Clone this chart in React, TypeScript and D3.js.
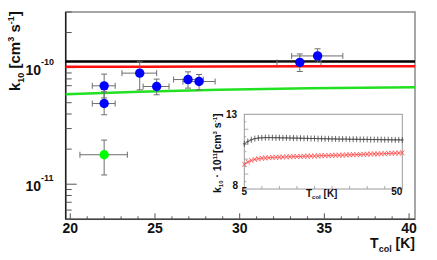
import React from 'react';
import * as d3 from 'd3';

// main plot: measured rate coefficients vs collision temperature
const blueT = [22, 22, 24.1, 25.1, 26.95, 27.6, 33.55, 34.6];
const blueK = [6.98e-11, 4.92e-11, 8.97e-11, 6.89e-11, 7.9e-11, 7.6e-11, 1.11e-10, 1.26e-10];
const blueTLo = [21.3, 21.3, 23.05, 24.3, 26.1, 26.65, 32.2, 33.07];
const blueTHi = [22.65, 22.65, 25.1, 25.83, 27.85, 28.55, 34.8, 36.09];
const blueKLo = [5.5e-11, 3.94e-11, 6.45e-11, 5.85e-11, 6.67e-11, 6.45e-11, 9.26e-11, 1.11e-10];
const blueKHi = [8.8e-11, 6.2e-11, 1.12e-10, 7.97e-11, 9.2e-11, 8.73e-11, 1.31e-10, 1.45e-10];

const greenT = [22];
const greenK = [1.79e-11];
const greenTLo = [20.57];
const greenTHi = [23.37];
const greenKLo = [1.2e-11];
const greenKHi = [2.39e-11];

// theory curves
const curveT = [19.73, 24.1, 28.8, 34.1, 40.35];
const blackCurve = [1.13e-10, 1.13e-10, 1.13e-10, 1.13e-10, 1.13e-10];
const redCurve = [1.016e-10, 1.019e-10, 1.022e-10, 1.026e-10, 1.03e-10];
const greenCurve = [5.92e-11, 6.2e-11, 6.45e-11, 6.64e-11, 6.8e-11];

const xTicks = [20, 25, 30, 35, 40];
const yMajor = [1e-11, 1e-10];
const yMajorExp = ['-11', '-10'];

// inset: k10 * 1e11 for T = 5..50 K
const insetT = d3.range(5, 51);
const insetBlack = [
  11.02, 11.18, 11.3, 11.37, 11.41, 11.43, 11.44, 11.44, 11.44, 11.43,
  11.43, 11.42, 11.42, 11.41, 11.41, 11.4, 11.4, 11.39, 11.39, 11.38,
  11.38, 11.37, 11.37, 11.36, 11.36, 11.35, 11.35, 11.34, 11.34, 11.34,
  11.33, 11.33, 11.33, 11.32, 11.32, 11.32, 11.31, 11.31, 11.31, 11.3,
  11.3, 11.3, 11.29, 11.29, 11.29, 11.28,
];
const insetRed = [
  9.65, 9.8, 9.91, 9.98, 10.03, 10.06, 10.08, 10.1, 10.11, 10.12,
  10.13, 10.14, 10.15, 10.16, 10.17, 10.17, 10.18, 10.19, 10.2, 10.2,
  10.21, 10.22, 10.23, 10.23, 10.24, 10.25, 10.26, 10.26, 10.27, 10.28,
  10.29, 10.3, 10.3, 10.31, 10.32, 10.33, 10.34, 10.35, 10.35, 10.36,
  10.37, 10.38, 10.39, 10.4, 10.41, 10.42,
];

const FONT = "'Liberation Sans', Arial, sans-serif";

export default function App() {
  const left = 65.7, right = 415, top = 12, bottom = 219.3;
  const x = d3.scaleLinear().domain([19.73, 40.35]).range([left, right]);
  const y = d3.scaleLog().domain([5e-12, 3e-10]).range([bottom, top]);

  const minorY: number[] = [];
  [1e-12, 1e-11, 1e-10].forEach(dec => {
    for (let m = 2; m <= 9; m++) {
      const v = m * dec;
      if (v >= 5e-12 && v <= 3e-10) minorY.push(v);
    }
  });
  const minorX = d3.range(20, 41).filter(v => v % 5 !== 0);

  const line = d3.line<number>().x((d, i) => x(curveT[i])).y(d => y(d));

  // inset scales
  const ix = d3.scaleLinear().domain([5, 50]).range([244.3, 402.3]);
  const iy = d3.scaleLinear().domain([8, 13]).range([189, 114.3]);
  const iline = d3.line<number>().x((d, i) => ix(insetT[i])).y(d => iy(d));

  const errColor = '#6e6e6e';
  const cap = 3;

  const errBars = (T: number[], K: number[], tlo: number[], thi: number[], klo: number[], khi: number[]) =>
    T.map((t, i) => (
      <g key={i} stroke={errColor} strokeWidth={1}>
        <line x1={x(tlo[i])} x2={x(thi[i])} y1={y(K[i])} y2={y(K[i])} />
        <line x1={x(tlo[i])} x2={x(tlo[i])} y1={y(K[i]) - cap} y2={y(K[i]) + cap} />
        <line x1={x(thi[i])} x2={x(thi[i])} y1={y(K[i]) - cap} y2={y(K[i]) + cap} />
        <line x1={x(t)} x2={x(t)} y1={y(klo[i])} y2={y(khi[i])} />
        <line x1={x(t) - cap} x2={x(t) + cap} y1={y(klo[i])} y2={y(klo[i])} />
        <line x1={x(t) - cap} x2={x(t) + cap} y1={y(khi[i])} y2={y(khi[i])} />
      </g>
    ));

  return (
    <svg width={437} height={260} style={{ position: 'fixed', left: 0, top: 0, background: '#fff' }}
      fontFamily={FONT} fontWeight="bold">
      {/* frame */}
      <rect x={left} y={top} width={right - left} height={bottom - top} fill="#fff" stroke="#8a8a8a" strokeWidth={1.5} />
      <line x1={left} x2={left} y1={top} y2={bottom} stroke="#222" strokeWidth={1.5} />
      <line x1={left} x2={right} y1={bottom} y2={bottom} stroke="#444" strokeWidth={1.5} />

      {/* y ticks */}
      {minorY.map((v, i) => (
        <line key={'ym' + i} x1={left} x2={left + 6} y1={y(v)} y2={y(v)} stroke="#555" strokeWidth={1} />
      ))}
      {yMajor.map((v, i) => (
        <g key={'yM' + i}>
          <line x1={left} x2={left + 11} y1={y(v)} y2={y(v)} stroke="#555" strokeWidth={1} />
          <text x={41} y={y(v) + 7} fontSize={14} textAnchor="end" fill="#111">10</text>
          <text x={41} y={y(v) - 3} fontSize={9} fill="#111">{yMajorExp[i]}</text>
        </g>
      ))}

      {/* x ticks */}
      {minorX.map(v => (
        <line key={'xm' + v} x1={x(v)} x2={x(v)} y1={bottom} y2={bottom - 3} stroke="#555" strokeWidth={1} />
      ))}
      {xTicks.map(v => (
        <g key={'xM' + v}>
          <line x1={x(v)} x2={x(v)} y1={bottom} y2={bottom - 6} stroke="#555" strokeWidth={1} />
          <text x={x(v)} y={232.5} fontSize={14} textAnchor="middle" fill="#111">{v}</text>
        </g>
      ))}

      {/* theory curves */}
      <path d={line(greenCurve) || ''} fill="none" stroke="#22e022" strokeWidth={2.5} />
      <path d={line(redCurve) || ''} fill="none" stroke="#ff1010" strokeWidth={2.5} />
      <path d={line(blackCurve) || ''} fill="none" stroke="#000" strokeWidth={2.5} />

      {/* data */}
      {errBars(blueT, blueK, blueTLo, blueTHi, blueKLo, blueKHi)}
      {errBars(greenT, greenK, greenTLo, greenTHi, greenKLo, greenKHi)}
      {blueT.map((t, i) => (
        <circle key={'b' + i} cx={x(t)} cy={y(blueK[i])} r={4.7} fill="#0000ff" />
      ))}
      {greenT.map((t, i) => (
        <circle key={'g' + i} cx={x(t)} cy={y(greenK[i])} r={4.7} fill="#00ff00" />
      ))}

      {/* axis titles */}
      <text transform="translate(20,91) rotate(-90)" fontSize={15} fill="#111">
        k<tspan fontSize={9} dy={4}>10</tspan>
        <tspan dy={-4}> [cm</tspan>
        <tspan fontSize={9} dy={-6}>3</tspan>
        <tspan dy={6}> s</tspan>
        <tspan fontSize={9} dy={-6}>-1</tspan>
        <tspan dy={6}>]</tspan>
      </text>
      <text x={415} y={248} textAnchor="end" fontSize={14} fill="#111">
        T<tspan fontSize={9} dy={4}>col</tspan>
        <tspan dy={-4}> [K]</tspan>
      </text>

      {/* inset */}
      <rect x={ix(5)} y={iy(13)} width={ix(50) - ix(5)} height={iy(8) - iy(13)} fill="#fff" stroke="#9a9a9a" strokeWidth={1} />
      {d3.range(8.5, 13, 0.5).map(v => (
        <line key={'iy' + v} x1={ix(5)} x2={ix(5) + (v % 1 === 0 ? 4 : 2)} y1={iy(v)} y2={iy(v)} stroke="#999" strokeWidth={0.8} />
      ))}
      {d3.range(10, 50, 5).map(v => (
        <line key={'ix' + v} x1={ix(v)} x2={ix(v)} y1={iy(8)} y2={iy(8) - 3} stroke="#999" strokeWidth={0.8} />
      ))}
      <path d={iline(insetBlack) || ''} fill="none" stroke="#444" strokeWidth={0.8} />
      {insetT.map((t, i) => (
        <g key={'ib' + i} stroke="#444" strokeWidth={0.8}>
          <line x1={ix(t)} x2={ix(t)} y1={iy(insetBlack[i]) - 3} y2={iy(insetBlack[i]) + 3} />
          <line x1={ix(t) - 1.5} x2={ix(t) + 1.5} y1={iy(insetBlack[i])} y2={iy(insetBlack[i])} />
        </g>
      ))}
      <path d={iline(insetRed) || ''} fill="none" stroke="#ff4a4a" strokeWidth={0.8} />
      {insetT.map((t, i) => (
        <g key={'ir' + i} stroke="#ff4a4a" strokeWidth={0.8}>
          <line x1={ix(t) - 2} x2={ix(t) + 2} y1={iy(insetRed[i]) - 2.5} y2={iy(insetRed[i]) + 2.5} />
          <line x1={ix(t) - 2} x2={ix(t) + 2} y1={iy(insetRed[i]) + 2.5} y2={iy(insetRed[i]) - 2.5} />
        </g>
      ))}
      <text x={237} y={iy(13) + 4} fontSize={10} textAnchor="end" fill="#111">13</text>
      <text x={238} y={iy(8) + 0} fontSize={10} textAnchor="end" fill="#111">8</text>
      <text x={ix(5)} y={194.5} fontSize={10} textAnchor="middle" fill="#111">5</text>
      <text x={ix(50)} y={194.5} fontSize={10} textAnchor="end" fill="#111">50</text>
      <text x={306} y={197} fontSize={10} fill="#111">
        T<tspan fontSize={6} dy={2}>col</tspan>
        <tspan dy={-2}>  [K]</tspan>
      </text>
      <text transform="translate(221,193) rotate(-90)" fontSize={10.5} fill="#111">
        k<tspan fontSize={6} dy={2}>10</tspan>
        <tspan dy={-2}> · 10</tspan>
        <tspan fontSize={6} dy={-4}>11</tspan>
        <tspan dy={4}>[cm</tspan>
        <tspan fontSize={6} dy={-4}>3</tspan>
        <tspan dy={4}>  s</tspan>
        <tspan fontSize={6} dy={-4}>-1</tspan>
        <tspan dy={4}>]</tspan>
      </text>
    </svg>
  );
}
